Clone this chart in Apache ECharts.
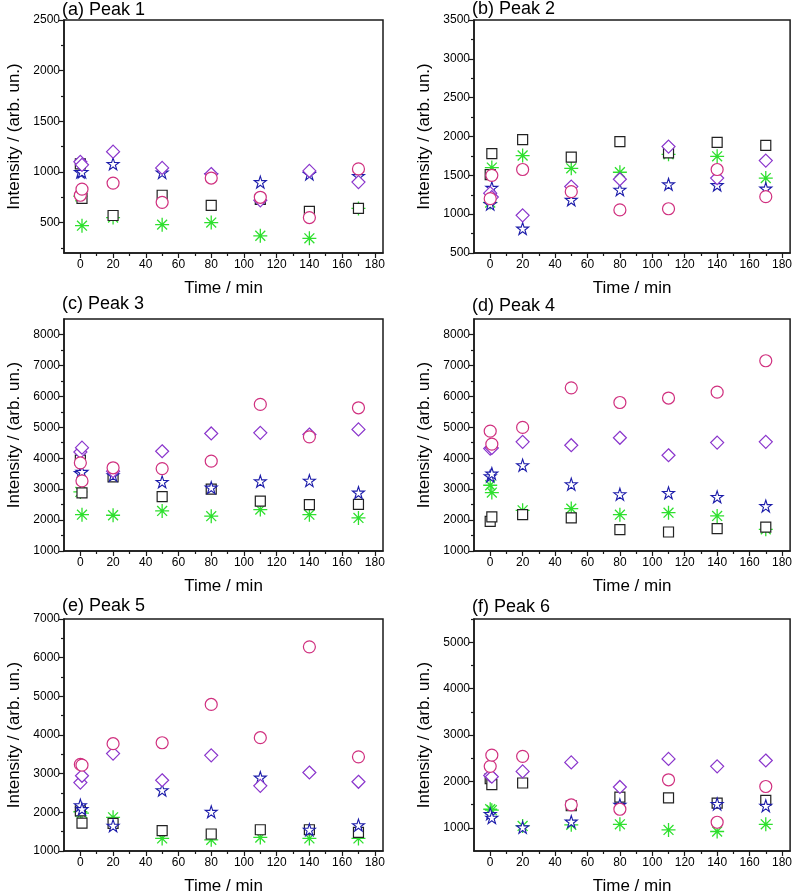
<!DOCTYPE html>
<html>
<head>
<meta charset="utf-8">
<script src="https://cdn.jsdelivr.net/npm/echarts@6/dist/echarts.min.js"></script>
<style>html,body{margin:0;padding:0;background:#fff}#c{width:795px;height:896px}</style>
</head>
<body>
<div id="c"></div>
<script>
// Time points (two measurements near t = 0)
const times = [0, 1, 20, 50, 80, 110, 140, 170];
const xLabels = [0, 20, 40, 60, 80, 100, 120, 140, 160, 180];
const xMinor = [10, 30, 50, 70, 90, 110, 130, 150, 170];

// (a) Peak 1
const a_square = [1080, 740, 570, 770, 670, 730, 610, 640];
const a_circle = [770, 830, 890, 700, 940, 750, 550, 1030];
const a_diamond = [1100, 1070, 1200, 1040, 980, 720, 1010, 900];
const a_star = [1000, 1000, 1080, 995, 970, 900, 980, 960];
const a_green = [760, 470, 550, 480, 500, 370, 345, 640];
const a_ticks = [500, 1000, 1500, 2000, 2500];
const a_minor = [250, 750, 1250, 1750, 2250];

// (b) Peak 2
const b_square = [1510, 1780, 1960, 1735, 1935, 1790, 1925, 1885];
const b_circle = [1200, 1500, 1575, 1290, 1055, 1070, 1575, 1225];
const b_diamond = [1270, 1220, 985, 1355, 1450, 1870, 1465, 1690];
const b_star = [1130, 1340, 815, 1185, 1315, 1385, 1375, 1330];
const b_green = [1150, 1600, 1755, 1590, 1540, 1770, 1745, 1465];
const b_ticks = [500, 1000, 1500, 2000, 2500, 3000, 3500];
const b_minor = [750, 1250, 1750, 2250, 2750, 3250];

// (c) Peak 3
const c_square = [3935, 2880, 3395, 2760, 3000, 2610, 2500, 2510];
const c_circle = [3850, 3265, 3690, 3665, 3905, 5740, 4690, 5630];
const c_diamond = [4200, 4340, 3580, 4225, 4800, 4820, 4765, 4930];
const c_star = [3520, 3560, 3450, 3235, 3050, 3255, 3275, 2890];
const c_green = [2910, 2175, 2155, 2295, 2125, 2340, 2175, 2070];
const c_ticks = [1000, 2000, 3000, 4000, 5000, 6000, 7000, 8000];
const c_minor = [1500, 2500, 3500, 4500, 5500, 6500, 7500];

// (d) Peak 4
const d_square = [1960, 2100, 2175, 2070, 1690, 1615, 1725, 1775];
const d_circle = [4875, 4455, 4995, 6275, 5800, 5945, 6135, 7150];
const d_diamond = [4310, 4330, 4530, 4420, 4660, 4095, 4505, 4530];
const d_star = [3420, 3505, 3775, 3160, 2835, 2880, 2750, 2455];
const d_green = [3125, 2890, 2315, 2370, 2175, 2240, 2135, 1700];
const d_ticks = [1000, 2000, 3000, 4000, 5000, 6000, 7000, 8000];
const d_minor = [1500, 2500, 3500, 4500, 5500, 6500, 7500];

// (e) Peak 5
const e_square = [2040, 1720, 1715, 1525, 1440, 1550, 1550, 1480];
const e_circle = [3240, 3220, 3775, 3800, 4790, 3930, 6280, 3435];
const e_diamond = [2770, 2945, 3520, 2830, 3475, 2685, 3030, 2790];
const e_star = [2185, 2085, 1655, 2575, 2015, 2900, 1550, 1670];
const e_green = [2015, 1980, 1870, 1325, 1290, 1350, 1325, 1325];
const e_ticks = [1000, 2000, 3000, 4000, 5000, 6000, 7000];
const e_minor = [1500, 2500, 3500, 4500, 5500, 6500];

// (f) Peak 6
const f_square = [2060, 1930, 1965, 1475, 1660, 1645, 1530, 1590];
const f_circle = [2325, 2565, 2540, 1495, 1400, 2035, 1120, 1890];
const f_diamond = [2125, 2100, 2215, 2410, 1880, 2485, 2325, 2450];
const f_star = [1300, 1220, 1010, 1135, 1495, 420, 1515, 1475];
const f_green = [1400, 1380, 1040, 1065, 1075, 955, 920, 1075];
const f_ticks = [1000, 2000, 3000, 4000, 5000];
const f_minor = [1500, 2500, 3500, 4500, 5500];

const panels = [
  {title: '(a) Peak 1', ymin: 200, ymax: 2500, ticks: a_ticks, minor: a_minor, sq: a_square, ci: a_circle, di: a_diamond, st: a_star, gr: a_green},
  {title: '(b) Peak 2', ymin: 500, ymax: 3500, ticks: b_ticks, minor: b_minor, sq: b_square, ci: b_circle, di: b_diamond, st: b_star, gr: b_green},
  {title: '(c) Peak 3', ymin: 1000, ymax: 8500, ticks: c_ticks, minor: c_minor, sq: c_square, ci: c_circle, di: c_diamond, st: c_star, gr: c_green},
  {title: '(d) Peak 4', ymin: 1000, ymax: 8500, ticks: d_ticks, minor: d_minor, sq: d_square, ci: d_circle, di: d_diamond, st: d_star, gr: d_green},
  {title: '(e) Peak 5', ymin: 1000, ymax: 7000, ticks: e_ticks, minor: e_minor, sq: e_square, ci: e_circle, di: e_diamond, st: e_star, gr: e_green},
  {title: '(f) Peak 6', ymin: 500, ymax: 5500, ticks: f_ticks, minor: f_minor, sq: f_square, ci: f_circle, di: f_diamond, st: f_star, gr: f_green}
];

const gridPos = [
  {left: 64, top: 20, width: 319, height: 233},
  {left: 474, top: 20, width: 318, height: 233},
  {left: 64, top: 319, width: 319, height: 232},
  {left: 474, top: 319, width: 318, height: 232},
  {left: 64, top: 619, width: 319, height: 233},
  {left: 474, top: 619, width: 318, height: 232}
];
const titlePos = [[62, 1], [472, 0], [62, 295], [472, 297], [62, 597], [472, 598]];

const FONT = 'Liberation Sans, Arial, sans-serif';
const STAR = 'path://M0,-10L2.245,-3.09L9.51,-3.09L3.633,1.18L5.88,8.09L0,3.82L-5.88,8.09L-3.633,1.18L-9.51,-3.09L-2.245,-3.09Z';
const ASTER = 'path://M0,-10L0,10M-10,0L10,0M-7.07,-7.07L7.07,7.07M-7.07,7.07L7.07,-7.07';

const styles = {
  gr: {symbol: ASTER, size: 14, color: '#2ee02e', fill: '#2ee02e', bw: 1.3},
  sq: {symbol: 'rect', size: 10, color: '#222222', fill: '#ffffff', bw: 1.2},
  st: {symbol: STAR, size: 12, color: '#1c1caa', fill: '#ffffff', bw: 1.1},
  di: {symbol: 'diamond', size: 13, color: '#8a35cc', fill: '#ffffff', bw: 1.2},
  ci: {symbol: 'circle', size: 12, color: '#d0307f', fill: '#ffffff', bw: 1.2}
};
const order = ['gr', 'sq', 'st', 'di', 'ci'];
const plain = v => String(v);

const grids = [], xAxes = [], yAxes = [], series = [], titles = [];
panels.forEach((p, i) => {
  grids.push(Object.assign({show: true, borderColor: '#1a1a1a', borderWidth: 1.5, backgroundColor: '#fff', containLabel: false}, gridPos[i]));
  titles.push({text: p.title, left: titlePos[i][0], top: titlePos[i][1], padding: 0,
    textStyle: {fontFamily: FONT, fontSize: 18, fontWeight: 'normal', color: '#000'}});
  xAxes.push({
    type: 'value', gridIndex: i, min: -10, max: 185, position: 'bottom',
    name: 'Time / min', nameLocation: 'middle', nameGap: 27,
    nameTextStyle: {fontFamily: FONT, fontSize: 17, color: '#000'},
    axisLine: {show: true, onZero: false, lineStyle: {color: '#1a1a1a', width: 1.5}},
    axisTick: {show: true, inside: false, length: 5, customValues: xLabels, lineStyle: {color: '#1a1a1a', width: 1.2}},
    axisLabel: {show: true, customValues: xLabels, formatter: plain, margin: 6, fontFamily: FONT, fontSize: 12, color: '#000'},
    splitLine: {show: false}
  });
  xAxes.push({
    type: 'value', gridIndex: i, min: -10, max: 185, position: 'bottom',
    axisLine: {show: false, onZero: false},
    axisTick: {show: true, inside: false, length: 3, customValues: xMinor, lineStyle: {color: '#1a1a1a', width: 1.2}},
    axisLabel: {show: false, customValues: xMinor},
    splitLine: {show: false}
  });
  yAxes.push({
    type: 'value', gridIndex: i, min: p.ymin, max: p.ymax, position: 'left',
    name: 'Intensity / (arb. un.)', nameLocation: 'middle', nameGap: 41,
    nameTextStyle: {fontFamily: FONT, fontSize: 17, color: '#000'},
    axisLine: {show: true, onZero: false, lineStyle: {color: '#1a1a1a', width: 1.5}},
    axisTick: {show: true, inside: false, length: 5, customValues: p.ticks, lineStyle: {color: '#1a1a1a', width: 1.2}},
    axisLabel: {show: true, customValues: p.ticks, formatter: plain, margin: 4, fontFamily: FONT, fontSize: 12, color: '#000'},
    splitLine: {show: false}
  });
  yAxes.push({
    type: 'value', gridIndex: i, min: p.ymin, max: p.ymax, position: 'left', offset: 0,
    axisLine: {show: false, onZero: false},
    axisTick: {show: true, inside: false, length: 3, customValues: p.minor, lineStyle: {color: '#1a1a1a', width: 1.2}},
    axisLabel: {show: false, customValues: p.minor},
    splitLine: {show: false}
  });
  order.forEach(k => {
    const s = styles[k];
    series.push({
      type: 'scatter', xAxisIndex: 2 * i, yAxisIndex: 2 * i,
      data: times.map((t, j) => [t, p[k][j]]),
      symbol: s.symbol, symbolSize: s.size,
      itemStyle: {color: s.fill, borderColor: s.color, borderWidth: s.bw, opacity: 1},
      emphasis: {disabled: true},
      animation: false
    });
  });
});

const chart = echarts.init(document.getElementById('c'), null, {renderer: 'canvas'});
chart.setOption({
  backgroundColor: '#ffffff',
  animation: false,
  title: titles,
  grid: grids,
  xAxis: xAxes,
  yAxis: yAxes,
  series: series
});
</script>
</body>
</html>
